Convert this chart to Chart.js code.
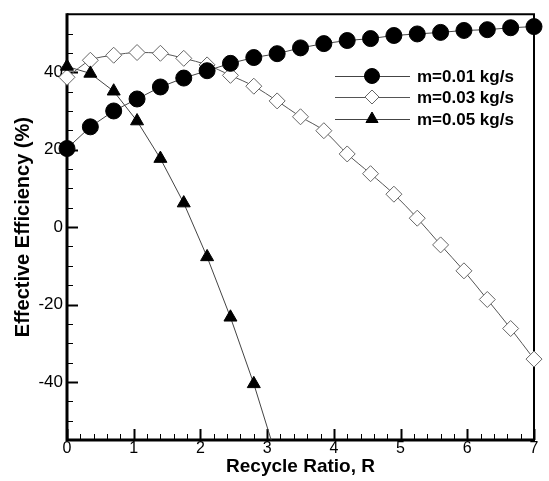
<!DOCTYPE html>
<html>
<head>
<meta charset="utf-8">
<script src="https://cdn.jsdelivr.net/npm/chart.js@4.4.0/dist/chart.umd.min.js"></script>
<style>
	body { margin: 0; background: #fff; }
	#wrap { width: 549px; height: 481px; position: relative; }
</style>
</head>
<body>
<div id="wrap"><canvas id="myChart"></canvas></div>
<script>
// recycle ratio R (x values)
var ratio = [0, 0.35, 0.7, 1.05, 1.4, 1.75, 2.1, 2.45, 2.8, 3.15, 3.5, 3.85, 4.2, 4.55, 4.9, 5.25, 5.6, 5.95, 6.3, 6.65, 7];

// effective efficiency (%) per mass flow
var eff_m001 = [20.3, 25.9, 30.0, 33.1, 36.2, 38.5, 40.4, 42.3, 43.8, 44.8, 46.3, 47.4, 48.2, 48.7, 49.5, 49.9, 50.3, 50.8, 51.0, 51.5, 51.8];
var eff_m003 = [38.7, 43.1, 44.4, 45.1, 44.9, 43.6, 41.9, 39.2, 36.4, 32.6, 28.5, 24.9, 18.9, 13.8, 8.5, 2.3, -4.6, -11.3, -18.7, -26.2, -34.1];
var eff_m005 = [41.5, 39.7, 35.1, 27.4, 17.7, 6.2, -7.7, -23.3, -40.5, -60.0];

var labels = ["m=0.01 kg/s", "m=0.03 kg/s", "m=0.05 kg/s"];

var yMajor = [-40, -20, 0, 20, 40];

function toPoints(vals){
	var pts = [];
	vals.forEach(function(v, k){
		pts.push({x: ratio[k], y: v});
	});
	return pts;
}

function isWhole(v){
	return Math.abs(v - Math.round(v)) < 1e-6;
}

//frame + inward ticks
var framePlugin = {
	id: 'frame',
	beforeDatasetsDraw: function(chart){
		var ctx = chart.ctx;
		var a = chart.chartArea;
		var xs = chart.scales.x, ys = chart.scales.y;
		ctx.save();
		ctx.strokeStyle = '#000';
		ctx.lineWidth = 1;
		ys.ticks.forEach(function(t){
			var py = Math.round(ys.getPixelForValue(t.value)) + 0.5;
			var len = yMajor.indexOf(Math.round(t.value)) >= 0 && isWhole(t.value) ? 11 : 6;
			ctx.lineWidth = len > 6 ? 2 : 1;
			ctx.beginPath();
			ctx.moveTo(a.left, py);
			ctx.lineTo(a.left + len, py);
			ctx.stroke();
		});
		xs.ticks.forEach(function(t){
			var px = Math.round(xs.getPixelForValue(t.value)) + 0.5;
			var major = isWhole(t.value);
			var len = major ? 11 : 6;
			ctx.lineWidth = major ? 2 : 1;
			ctx.beginPath();
			ctx.moveTo(px, a.bottom);
			ctx.lineTo(px, a.bottom - len);
			ctx.stroke();
		});
		ctx.lineWidth = 2;
		ctx.beginPath();
		ctx.moveTo(a.left, a.top);
		ctx.lineTo(a.right, a.top);
		ctx.lineTo(a.right, a.bottom);
		ctx.stroke();
		ctx.lineWidth = 3;
		ctx.beginPath();
		ctx.moveTo(a.left, a.top - 1);
		ctx.lineTo(a.left, a.bottom);
		ctx.lineTo(a.right + 1, a.bottom);
		ctx.stroke();
		ctx.restore();
	}
};

//legend inside plot
var legendPlugin = {
	id: 'insideLegend',
	afterDraw: function(chart){
		var ctx = chart.ctx;
		var rows = [76, 97, 119];
		var x0 = 335, x1 = 410, xm = 372;
		ctx.save();
		chart.data.datasets.forEach(function(ds, k){
			var y = rows[k];
			ctx.strokeStyle = ds.borderColor;
			ctx.lineWidth = 1;
			ctx.beginPath();
			ctx.moveTo(x0, y + 0.5);
			ctx.lineTo(x1, y + 0.5);
			ctx.stroke();
			ctx.fillStyle = ds.pointBackgroundColor;
			ctx.strokeStyle = ds.pointBorderColor;
			ctx.lineWidth = 1;
			Chart.helpers.drawPoint(ctx, {pointStyle: ds.pointStyle, radius: ds.legendRadius, borderWidth: 1}, xm, y);
			ctx.fillStyle = '#000';
			ctx.font = 'bold 17px "Liberation Sans", Arial, sans-serif';
			ctx.textBaseline = 'middle';
			ctx.textAlign = 'left';
			ctx.fillText(labels[k], 417, y + 1);
		});
		ctx.restore();
	}
};

var ctx = document.getElementById('myChart');
var myChart = new Chart(ctx, {
	type: 'line',
	data: {
		datasets: [{
			label: labels[0],
			data: toPoints(eff_m001),
			borderColor: '#444',
			borderWidth: 1,
			pointStyle: 'circle',
			pointRadius: 8,
			legendRadius: 7.5,
			pointBackgroundColor: '#000',
			pointBorderColor: '#000',
			pointBorderWidth: 1,
			tension: 0,
			clip: false,
			order: 0
		}, {
			label: labels[1],
			data: toPoints(eff_m003),
			borderColor: '#555',
			borderWidth: 1,
			pointStyle: 'rectRot',
			pointRadius: 8,
			legendRadius: 7,
			pointBackgroundColor: '#fff',
			pointBorderColor: '#666',
			pointBorderWidth: 1,
			cubicInterpolationMode: 'monotone',
			clip: false,
			order: 2
		}, {
			label: labels[2],
			data: toPoints(eff_m005),
			borderColor: '#444',
			borderWidth: 1,
			pointStyle: 'triangle',
			pointRadius: 7.5,
			legendRadius: 7,
			pointBackgroundColor: '#000',
			pointBorderColor: '#000',
			pointBorderWidth: 1,
			tension: 0,
			clip: {left: 12, top: 12, right: 0, bottom: 0},
			order: 1
		}]
	},
	options: {
		responsive: true,
		maintainAspectRatio: false,
		animation: false,
		events: [],
		layout: {
			padding: { top: 10, right: 15, left: 0, bottom: 0 }
		},
		plugins: {
			legend: { display: false },
			tooltip: { enabled: false }
		},
		scales: {
			x: {
				type: 'linear',
				min: 0,
				max: 7,
				afterFit: function(s){ s.height = 41; },
				grid: { display: false, drawTicks: false },
				border: { display: false },
				ticks: {
					stepSize: 0.2,
					autoSkip: false,
					maxRotation: 0,
					padding: 1,
					color: '#000',
					font: { family: '"Liberation Sans", Arial, sans-serif', size: 16, lineHeight: 1 },
					callback: function(v){ return isWhole(v) ? Math.round(v) : ''; }
				},
				title: {
					display: true,
					text: 'Recycle Ratio, R',
					color: '#000',
					font: { family: '"Liberation Sans", Arial, sans-serif', size: 19, weight: 'bold', lineHeight: 1.2 },
					padding: { top: 0, bottom: 3 }
				}
			},
			y: {
				min: -55,
				max: 55,
				afterFit: function(s){ s.width = 67; },
				grid: { display: false, drawTicks: false },
				border: { display: false },
				ticks: {
					stepSize: 5,
					autoSkip: false,
					padding: 4,
					color: '#000',
					font: { family: '"Liberation Sans", Arial, sans-serif', size: 17 },
					callback: function(v){ return yMajor.indexOf(v) >= 0 ? v : ''; }
				},
				title: {
					display: true,
					text: 'Effective Efficiency (%)',
					color: '#000',
					font: { family: '"Liberation Sans", Arial, sans-serif', size: 20, weight: 'bold', lineHeight: 1.2 },
					padding: { top: 11, bottom: 0 }
				}
			}
		}
	},
	plugins: [framePlugin, legendPlugin]
});
</script>
</body>
</html>
